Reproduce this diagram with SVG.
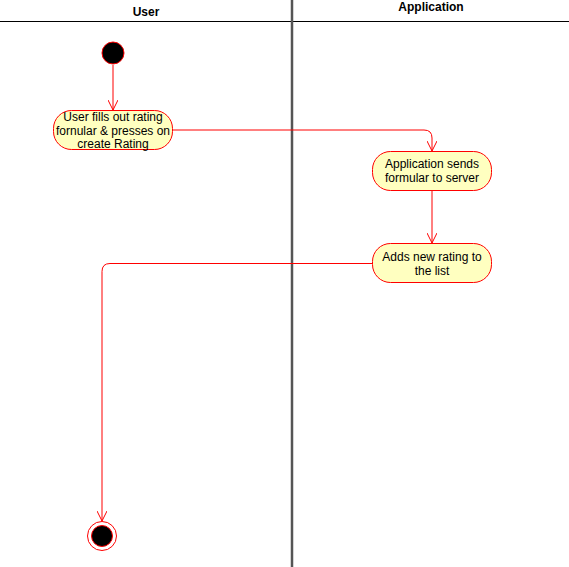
<svg xmlns="http://www.w3.org/2000/svg" width="569" height="567" viewBox="0 0 569 567">
<style>
.lane{font-family:"Liberation Sans",Arial,sans-serif;font-size:12px;font-weight:bold;fill:#000;text-anchor:middle}
.act{fill:#ffffc0;stroke:#ff0000;stroke-width:1}
.lbl{font-family:"Liberation Sans",Arial,sans-serif;font-size:12px;fill:#000;text-anchor:middle}
.edge{fill:none;stroke:#ff0000;stroke-width:1}
</style>
<defs>
<marker id="arr" viewBox="0 0 10 10" refX="10" refY="5" markerWidth="10" markerHeight="10" markerUnits="userSpaceOnUse" orient="auto">
<path d="M0,0 L10,5 L0,10" fill="none" stroke="#ff0000" stroke-width="1"/>
</marker>
</defs>
<rect width="569" height="567" fill="#fff"/>
<g id="lanes">
<line x1="0" y1="21.5" x2="569" y2="21.5" stroke="#000" stroke-width="1"/>
<line x1="292" y1="0" x2="292" y2="567" stroke="#555" stroke-width="2.5"/>
<text class="lane" x="146" y="16">User</text>
<text class="lane" x="431" y="11">Application</text>
</g>
<g id="connectors">
<path class="edge" d="M113,65 L113,110" marker-end="url(#arr)"/>
<path class="edge" d="M172,130 L424,130 Q432,130 432,138 L432,151" marker-end="url(#arr)"/>
<path class="edge" d="M432,190 L432,243" marker-end="url(#arr)"/>
<path class="edge" d="M372,263.5 L110,263.5 Q102,263.5 102,271.5 L102,521" marker-end="url(#arr)"/>
</g>
<g id="start">
<circle cx="113" cy="53" r="11" fill="#000" stroke="#ff0000" stroke-width="1"/>
</g>
<g id="fill-form">
<rect class="act" x="53.5" y="110.5" width="119" height="39" rx="18" ry="18"/>
<text class="lbl" x="113" y="121">User fills out rating</text>
<text class="lbl" x="113" y="134.5">fornular &amp; presses on</text>
<text class="lbl" x="113" y="148">create Rating</text>
</g>
<g id="send">
<rect class="act" x="372.5" y="151.5" width="119" height="39" rx="18" ry="18"/>
<text class="lbl" x="432" y="168">Application sends</text>
<text class="lbl" x="432" y="182">formular to server</text>
</g>
<g id="add">
<rect class="act" x="372.5" y="243.5" width="119" height="39" rx="18" ry="18"/>
<text class="lbl" x="432" y="261">Adds new rating to</text>
<text class="lbl" x="432" y="275">the list</text>
</g>
<g id="end">
<circle cx="102" cy="536" r="14.5" fill="none" stroke="#ff0000" stroke-width="1"/>
<circle cx="102" cy="536" r="10.5" fill="#000" stroke="#ff0000" stroke-width="1"/>
</g>
</svg>
